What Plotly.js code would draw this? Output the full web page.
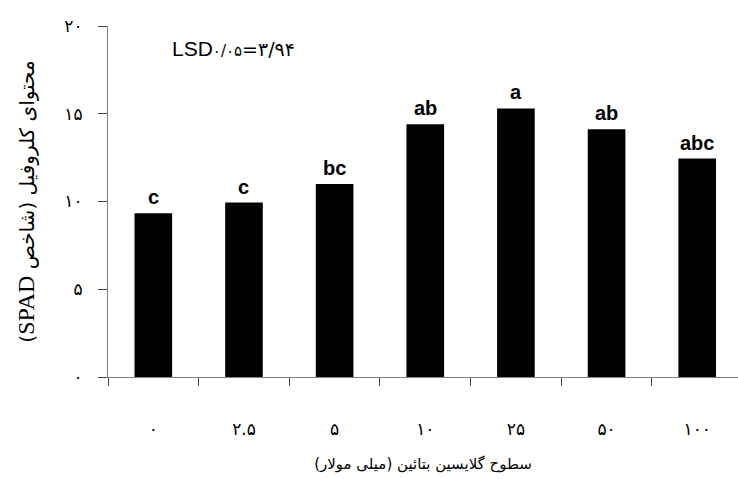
<!DOCTYPE html>
<html>
<head>
<meta charset="utf-8">
<script src="https://cdn.plot.ly/plotly-3.0.1.min.js"></script>
<style>html,body{margin:0;padding:0;background:#fff;}#chart{width:738px;height:479px;}</style>
</head>
<body>
<div id="chart"></div>
<script>
// Data
const categories = ['۰', '۲.۵', '۵', '۱۰', '۲۵', '۵۰', '۱۰۰'];
const chlorophyll = [9.33, 9.94, 11.0, 14.4, 15.3, 14.12, 12.45];
const groups = ['c', 'c', 'bc', 'ab', 'a', 'ab', 'abc'];
const yTickVals = [0, 5, 10, 15, 20];
const yTickText = ['۰', '۵', '۱۰', '۱۵', '۲۰'];
const lsdLabel = 'LSD';
const lsdLevel = '۰/۰۵';
const lsdValue = '=۳/۹۴';

const xTitle = 'سطوح گلایسین بتائین (میلی مولار)';
const yTitle = '\u202B' + 'محتوای کلروفیل (شاخص ' +
  '<span style="font-family:\'Liberation Serif\';font-size:24px">SPAD</span>)' + '\u202C';

const persianFont = 'DejaVu Sans';

const trace = {
  type: 'bar',
  x: categories,
  y: chlorophyll,
  marker: {color: '#000000', line: {width: 0}},
  hoverinfo: 'skip'
};

const annotations = categories.map((c, i) => ({
  x: c, y: chlorophyll[i], xref: 'x', yref: 'y',
  text: '<b>' + groups[i] + '</b>', showarrow: false,
  xanchor: 'center', yanchor: 'bottom', yshift: 3,
  font: {family: 'Liberation Sans', size: 20, color: '#000'}
}));
annotations.push({
  xref: 'paper', yref: 'paper', x: 0.098, y: 0.937,
  xanchor: 'left', yanchor: 'middle', showarrow: false,
  text: lsdLabel + '<span style="font-family:\'DejaVu Sans\';font-size:15px">' + lsdLevel +
        '</span><span style="font-family:\'DejaVu Sans\';font-size:19px">' + lsdValue + '</span>',
  font: {family: 'Liberation Sans', size: 21, color: '#000'}
});

const layout = {
  width: 738, height: 479,
  margin: {l: 108, r: 0, t: 26, b: 102},
  paper_bgcolor: '#ffffff', plot_bgcolor: '#ffffff',
  showlegend: false,
  bargap: 0.585,
  xaxis: {
    type: 'category',
    range: [-0.5, 6.45],
    tickson: 'boundaries',
    ticks: 'outside', ticklen: 8, tickcolor: '#444', tickwidth: 1,
    showline: true, linecolor: '#808080', linewidth: 1,
    showgrid: false, zeroline: false,
    ticklabelstandoff: 37,
    tickfont: {family: persianFont, size: 17, color: '#000'},
    title: {text: xTitle, font: {family: persianFont, size: 15, color: '#000'}, standoff: 20}
  },
  yaxis: {
    range: [0, 20],
    tickvals: yTickVals, ticktext: yTickText,
    ticks: 'outside', ticklen: 9, tickcolor: '#444', tickwidth: 1,
    showline: true, linecolor: '#808080', linewidth: 1,
    showgrid: false, zeroline: false,
    ticklabelstandoff: 12,
    tickfont: {family: persianFont, size: 17, color: '#000'},
    title: {text: yTitle, font: {family: persianFont, size: 20, color: '#000'}, standoff: 24}
  },
  annotations: annotations
};

Plotly.newPlot('chart', [trace], layout, {displayModeBar: false, staticPlot: true});
</script>
</body>
</html>
